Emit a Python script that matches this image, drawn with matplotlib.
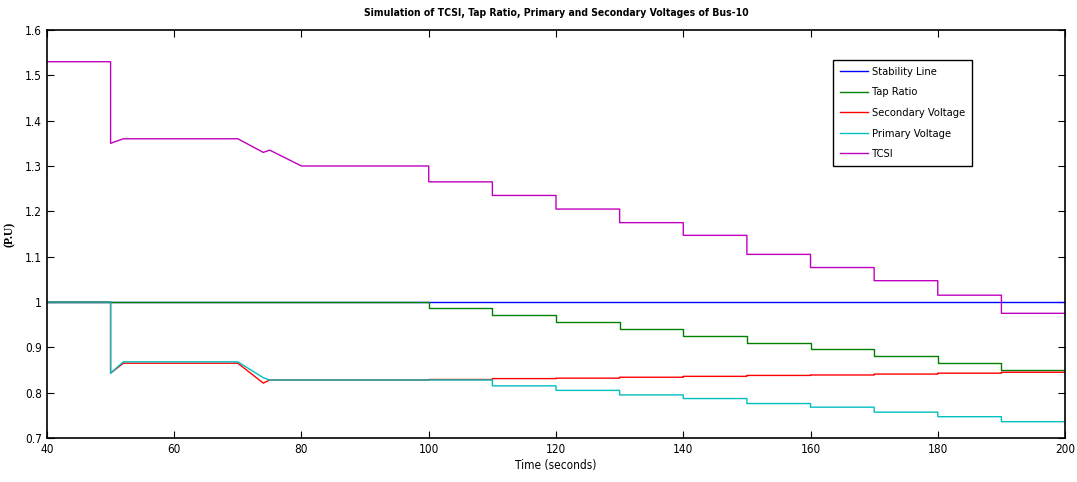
import numpy as np
import matplotlib.pyplot as plt

# time breakpoints (seconds)
t_start = [40, 50, 52, 70, 74, 75, 80]
t_steps = [100, 110, 120, 130, 140, 150, 160, 170, 180, 190, 200]

# TCSI
tcsi_start = [1.53, 1.35, 1.36, 1.36, 1.33, 1.335, 1.30]
tcsi_steps = [1.265, 1.235, 1.205, 1.175, 1.147, 1.105, 1.076, 1.047, 1.015, 0.975, 0.975]

# tap ratio
tap_start = [1.0, 1.0, 1.0, 1.0, 1.0, 1.0, 1.0]
tap_steps = [0.987, 0.971, 0.955, 0.941, 0.926, 0.910, 0.897, 0.881, 0.865, 0.849, 0.849]

# secondary voltage
sec_start = [1.0, 0.843, 0.865, 0.865, 0.821, 0.828, 0.828]
sec_steps = [0.829, 0.831, 0.832, 0.834, 0.836, 0.838, 0.839, 0.841, 0.843, 0.845, 0.845]

# primary voltage
pri_start = [1.0, 0.843, 0.868, 0.868, 0.833, 0.828, 0.828]
pri_steps = [0.828, 0.815, 0.805, 0.795, 0.787, 0.776, 0.768, 0.757, 0.747, 0.736, 0.736]


def build(t0, v0, ts, vs):
    # ramps before 100 s, then a staircase (step held until next time)
    t = [t0[0], 50]
    v = [v0[0], v0[0]]
    t += t0[1:]
    v += v0[1:]
    t.append(ts[0]); v.append(v0[-1])
    for i in range(len(ts) - 1):
        t += [ts[i], ts[i + 1]]
        v += [vs[i], vs[i]]
    return np.array(t), np.array(v)


plt.rcParams['font.family'] = ['DejaVu Sans']
plt.rcParams['font.stretch'] = 'condensed'

fig = plt.figure(figsize=(10.77, 4.82), dpi=100)
ax = fig.add_axes([0.0436, 0.0913, 0.9453, 0.8465])

ax.plot([40, 200], [1.0, 1.0], color='#0000ff', lw=1, label='Stability Line')
t, v = build(t_start, tap_start, t_steps, tap_steps)
ax.plot(t, v, color='#008000', lw=1, label='Tap Ratio')
t, v = build(t_start, sec_start, t_steps, sec_steps)
ax.plot(t, v, color='#ff0000', lw=1, label='Secondary Voltage')
t, v = build(t_start, pri_start, t_steps, pri_steps)
ax.plot(t, v, color='#00bfbf', lw=1, label='Primary Voltage')
t, v = build(t_start, tcsi_start, t_steps, tcsi_steps)
ax.plot(t, v, color='#bf00bf', lw=1, label='TCSI')

ax.set_xlim(40, 200)
ax.set_ylim(0.7, 1.6)
ax.set_xticks(np.arange(40, 201, 20))
ax.set_yticks(np.arange(0.7, 1.61, 0.1))
ax.set_yticklabels(['0.7', '0.8', '0.9', '1', '1.1', '1.2', '1.3', '1.4', '1.5', '1.6'])
ax.tick_params(direction='in', top=True, right=True, labelsize=8.5, length=5)
for s in ax.spines.values():
    s.set_linewidth(1.2)

ax.set_xlabel('Time (seconds)', fontsize=8.5, labelpad=2)
ax.set_ylabel('(P.U)', fontsize=8.5, fontweight='bold', family='Liberation Serif')
ax.yaxis.set_label_coords(-0.031, 0.5)
ax.set_title('Simulation of TCSI, Tap Ratio, Primary and Secondary Voltages of Bus-10',
             fontsize=7.5, fontweight='bold', pad=10)

leg = ax.legend(loc='upper left', bbox_to_anchor=(0.772, 0.926), fontsize=8, fancybox=False,
                edgecolor='black', framealpha=1, handlelength=2.6, handletextpad=0.3,
                borderpad=0.6, labelspacing=0.95, borderaxespad=0)
leg.get_frame().set_linewidth(1.0)

fig.savefig('out.png', dpi=100)
